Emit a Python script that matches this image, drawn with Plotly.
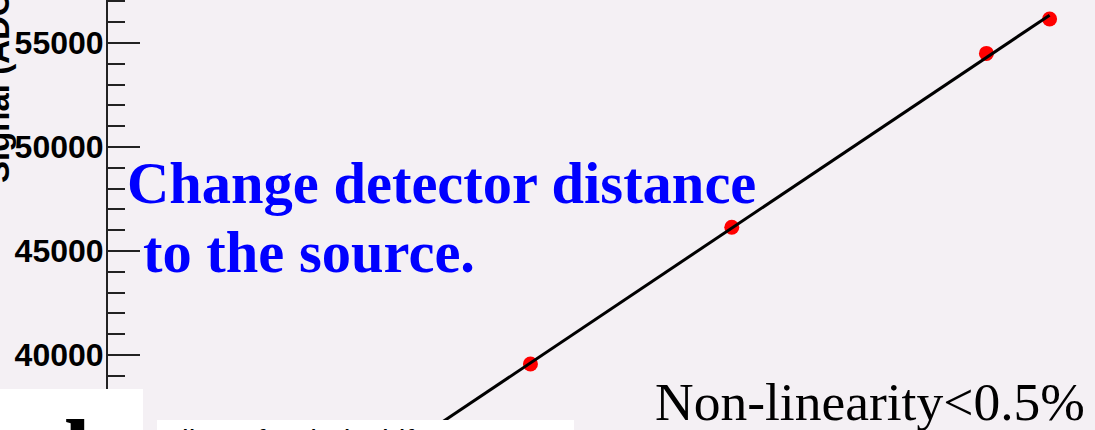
import numpy as np
import plotly.graph_objects as go

# Measured signal at four detector-to-source distances (relative intensity on x)
intensity = [0.714, 0.816, 0.945, 0.977]
signal_adc = [39570, 46140, 54500, 56150]

y_tick_values = [40000, 45000, 50000, 55000]
y_tick_labels = ["40000", "45000", "50000", "55000"]

W, H = 1095, 430
BG = "#f4f0f4"


def px(x):
    return x / W


def py(y):
    return 1 - y / H


# Linear fit of signal vs intensity
slope, intercept = np.polyfit(intensity, signal_adc, 1)
fit_x = np.linspace(0.62, max(intensity), 60)
fit_y = slope * fit_x + intercept

fig = go.Figure()
fig.add_trace(go.Scatter(
    x=intensity, y=signal_adc, mode="markers",
    marker=dict(color="#ff0000", size=15, line=dict(width=0)),
    showlegend=False,
))
fig.add_trace(go.Scatter(
    x=fit_x, y=fit_y, mode="lines",
    line=dict(color="black", width=3),
    showlegend=False,
))

fig.update_layout(
    width=W, height=H,
    margin=dict(l=0, r=0, t=0, b=0),
    paper_bgcolor=BG, plot_bgcolor=BG,
    xaxis=dict(domain=[108 / W, 1], range=[0.5, 1.0], visible=False),
    yaxis=dict(
        range=[36394, 57067],
        tickvals=y_tick_values, ticktext=y_tick_labels,
        ticks="inside", ticklen=32, tickwidth=2, tickcolor="#222",
        minor=dict(dtick=1000, tick0=0, ticks="inside", ticklen=17,
                   tickwidth=2, tickcolor="#222"),
        showline=True, linecolor="#222", linewidth=2,
        showgrid=False, zeroline=False,
        ticklabelstandoff=-4,
        tickfont=dict(family="Liberation Sans", size=32, color="black", weight="bold"),
    ),
)

# Y-axis title, rotated
fig.add_annotation(
    text="Signal (ADC)", xref="paper", yref="paper",
    x=px(-3), y=py(82), xanchor="center", yanchor="middle",
    textangle=-90, showarrow=False,
    font=dict(family="Liberation Sans", size=33, color="black", weight="bold"),
)

serif = "Liberation Serif"
fig.add_annotation(
    text="Change detector distance", xref="paper", yref="paper",
    x=px(125), y=py(183), xanchor="left", yanchor="middle", showarrow=False,
    font=dict(family=serif, size=58.5, color="#0000ff", weight="bold"),
)
fig.add_annotation(
    text="to the source.", xref="paper", yref="paper",
    x=px(141), y=py(252), xanchor="left", yanchor="middle", showarrow=False,
    font=dict(family=serif, size=58.5, color="#0000ff", weight="bold"),
)
fig.add_annotation(
    text="Non-linearity&lt;0.5%", xref="paper", yref="paper",
    x=px(653), y=py(402), xanchor="left", yanchor="middle", showarrow=False,
    font=dict(family=serif, size=53.5, color="black"),
)

# Overlapping white boxes along the bottom edge
fig.add_shape(type="rect", xref="paper", yref="paper",
              x0=px(0), x1=px(143), y0=py(389), y1=py(460),
              fillcolor="white", line=dict(width=0), layer="above")
fig.add_shape(type="rect", xref="paper", yref="paper",
              x0=px(157), x1=px(574), y0=py(420), y1=py(460),
              fillcolor="white", line=dict(width=0), layer="above")
fig.add_annotation(
    text="l", xref="paper", yref="paper",
    x=px(62), y=py(397), xanchor="left", yanchor="top", showarrow=False,
    font=dict(family=serif, size=96, color="black", weight="bold"),
)
fig.add_annotation(
    text="Allows for dark shift", xref="paper", yref="paper",
    x=px(160), y=py(422), xanchor="left", yanchor="top", showarrow=False,
    font=dict(family="Liberation Sans", size=30, color="black"),
)

fig.write_html("out.html")
